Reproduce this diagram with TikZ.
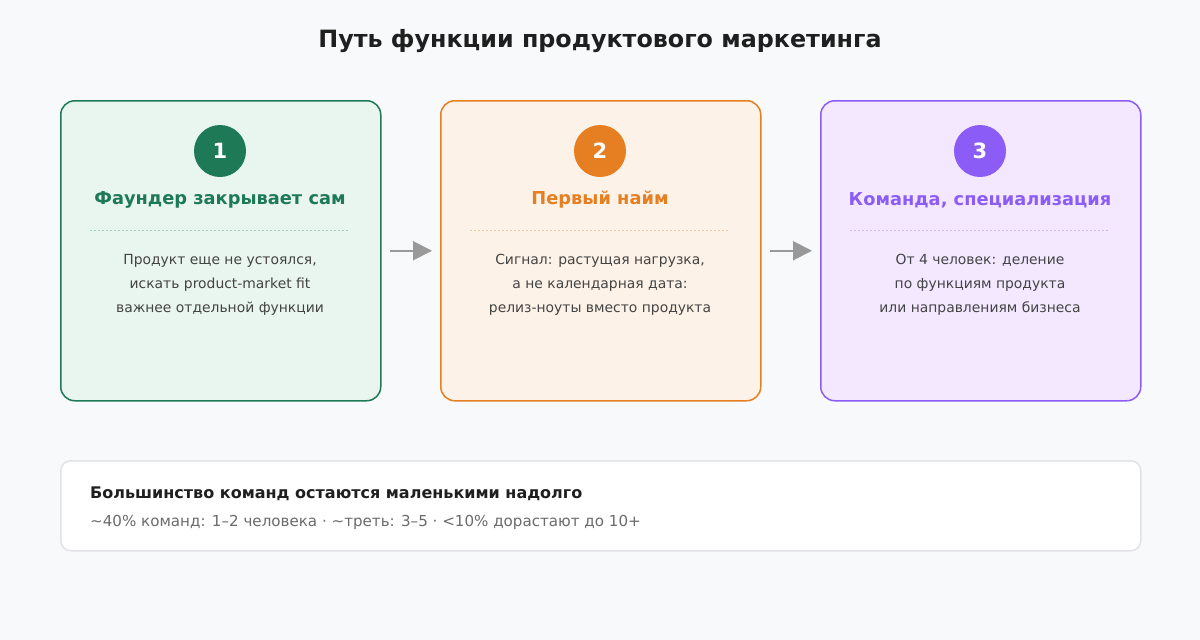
\documentclass[tikz,border=0pt]{standalone}
\usepackage{fontspec}
\setmainfont{DejaVu Sans}
\usetikzlibrary{arrows.meta}
\definecolor{bg}{HTML}{F8F9FA}
\definecolor{gA}{HTML}{1E7A56}\definecolor{gAf}{HTML}{E9F5EF}\definecolor{gAd}{HTML}{9FCDB8}
\definecolor{oA}{HTML}{E67E22}\definecolor{oAf}{HTML}{FDF2E7}\definecolor{oAd}{HTML}{F5C89A}
\definecolor{pA}{HTML}{8B5CF6}\definecolor{pAf}{HTML}{F3E8FF}\definecolor{pAd}{HTML}{CDB8F5}
\definecolor{bodytxt}{HTML}{444444}
\definecolor{arr}{HTML}{999999}
\definecolor{boxline}{HTML}{E1E3E6}
\begin{document}
\begin{tikzpicture}[x=1pt,y=-1pt,
  card/.style={draw=#1, fill=#1f, line width=1.5pt, rounded corners=14pt, minimum width=320pt, minimum height=300pt, inner sep=0pt, anchor=north west},
  numc/.style={circle, fill=#1, minimum size=52pt, inner sep=0pt, text=white, font=\fontsize{21}{24}\selectfont\bfseries},
  ctitle/.style={text=#1, font=\fontsize{17.8}{20}\selectfont\bfseries},
  sep/.style={draw=#1d, line width=1pt, dash pattern=on 1.5pt off 2.5pt},
  body/.style={text=bodytxt, align=center, font=\fontsize{13.9}{24}\selectfont},
  flow/.style={draw=arr, line width=2pt, -{Triangle[length=19pt,width=19pt]}, shorten <=8pt, shorten >=8pt}
]
\fill[bg] (0,0) rectangle (1200,640);
\useasboundingbox (0,0) rectangle (1200,640);
\node[font=\fontsize{23.8}{28}\selectfont\bfseries, text=black!88] (title) at (600,41) {Путь функции продуктового маркетинга};

\node[card=gA] (c1) at (60,100) {};
\node[card=oA] (c2) at (440,100) {};
\node[card=pA] (c3) at (820,100) {};

\node[numc=gA] (n1) at (220,151) {1};
\node[numc=oA] (n2) at (600,151) {2};
\node[numc=pA] (n3) at (980,151) {3};

\node[ctitle=gA] (t1) at (220,200) {Фаундер закрывает сам};
\node[ctitle=oA] (t2) at (600,200) {Первый найм};
\node[ctitle=pA] (t3) at (980,200) {Команда, специализация};

\draw[sep=gA] (90,230) -- (350,230);
\draw[sep=oA] (470,230) -- (730,230);
\draw[sep=pA] (850,230) -- (1110,230);

\node[body, anchor=north] (b1) at (220,251) {Продукт еще не устоялся,\\искать product-market fit\\важнее отдельной функции};
\node[body, anchor=north] (b2) at (600,251) {Сигнал: растущая нагрузка,\\а не календарная дата:\\релиз-ноуты вместо продукта};
\node[body, anchor=north] (b3) at (980,251) {От 4 человек: деление\\по функциям продукта\\или направлениям бизнеса};

\draw[flow] (c1.east) -- (c2.west);
\draw[flow] (c3.west -| c2.east) -- (c3.west);

\node[draw=boxline, fill=white, line width=1.5pt, rounded corners=10pt, minimum width=1080pt, minimum height=90pt, anchor=north west] (note) at (60,460) {};
\node[anchor=base west, inner sep=0pt, font=\fontsize{16}{18}\selectfont\bfseries, text=black!88] (nt) at (90,498) {Большинство команд остаются маленькими надолго};
\node[anchor=base west, inner sep=0pt, font=\fontsize{15.1}{17}\selectfont, text=black!58] (ns) at (90,526) {\textasciitilde40\% команд: 1–2 человека · \textasciitilde треть: 3–5 · <10\% дорастают до 10+};
\end{tikzpicture}
\end{document}
